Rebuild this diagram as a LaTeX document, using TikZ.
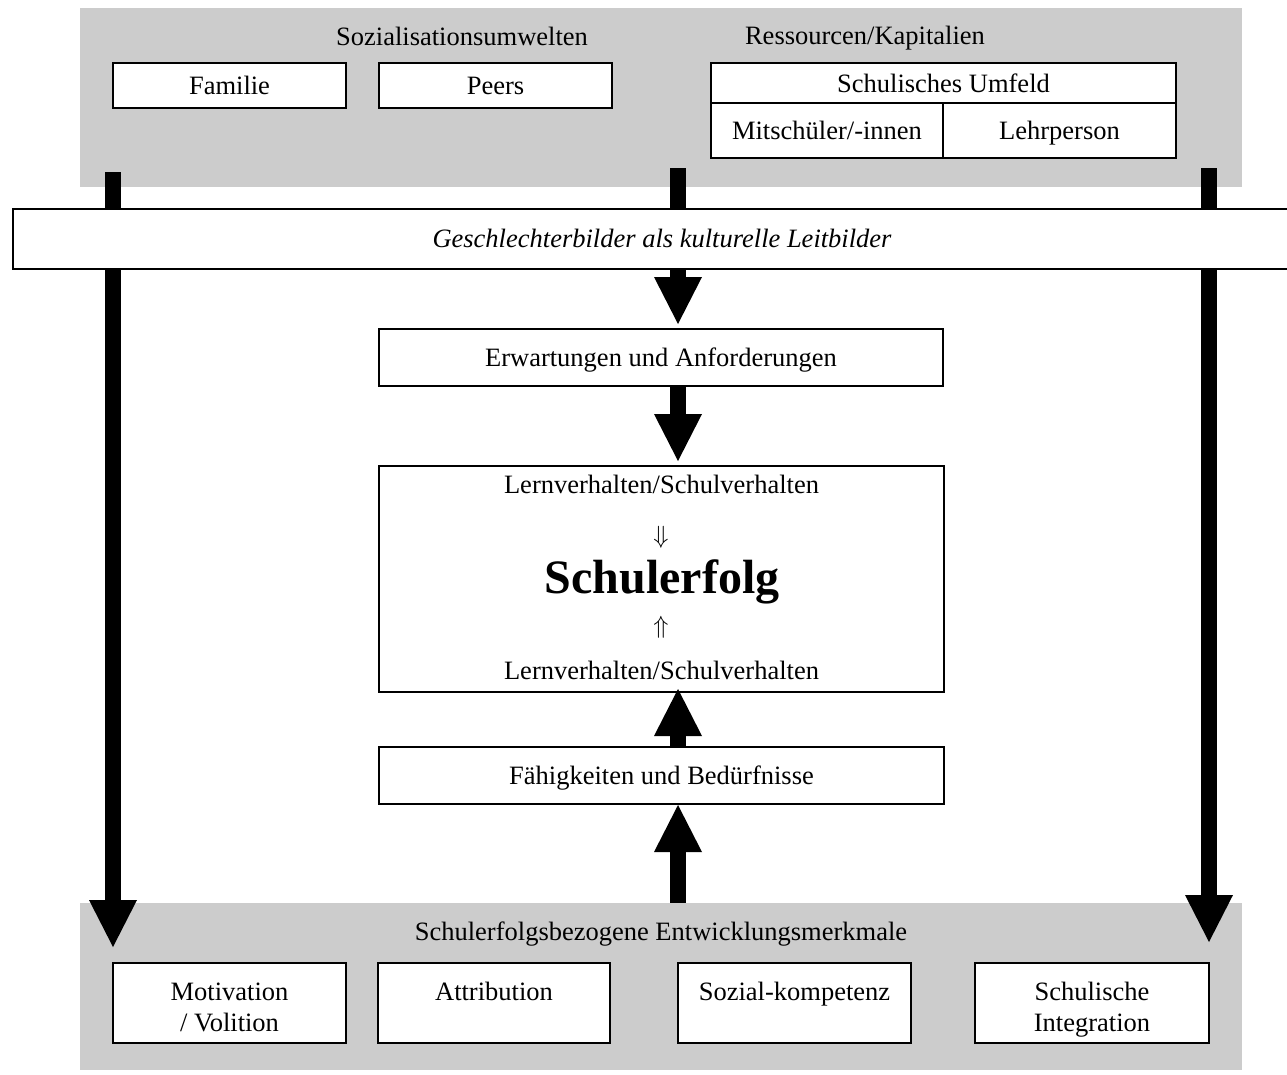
\documentclass[tikz,border=0pt]{standalone}
\usepackage{fontspec}
\setmainfont{Liberation Serif}
\usetikzlibrary{arrows.meta}
\begin{document}
\begin{tikzpicture}[x=1pt,y=-1pt,
  base/.style={font=\fontsize{26.5}{31}\selectfont},
  box/.style={base,draw=black,line width=2pt,fill=white,inner sep=0pt,align=center,text height=18pt,text depth=0pt},
  panel/.style={fill=black!20,draw=none,inner sep=0pt},
  bigarrow/.style={line width=16pt,-{Triangle[width=48pt,length=47pt,line width=0pt]}},
]
\useasboundingbox (0,0) rectangle (1287,1074);
% panels
\node[panel,minimum width=1162pt,minimum height=179pt] (topg) at (661,97.5) {};
\node[panel,minimum width=1162pt,minimum height=167pt] (botg) at (661,986.5) {};
% top panel content
\node[base,anchor=base] (sozt) at (462,45) {Sozialisationsumwelten};
\node[base,anchor=base] (rest) at (865,44) {Ressourcen/Kapitalien};
\node[box,minimum width=233pt,minimum height=45pt] (familie) at (229.5,85.5) {Familie};
\node[box,minimum width=233pt,minimum height=45pt] (peers) at (495.5,85.5) {Peers};
\node[box,minimum width=465pt,minimum height=40pt] (umfeld) at (943.5,83) {Schulisches Umfeld};
\node[box,minimum width=232pt,minimum height=55pt] (mitsch) at (827,130.5) {Mitsch\"uler/-innen};
\node[box,minimum width=233pt,minimum height=55pt] (lehr) at (1059.5,130.5) {Lehrperson};
% middle column
\node[box,minimum width=564pt,minimum height=57pt] (erw) at (661,357.5) {Erwartungen und Anforderungen};
\node[box,minimum width=565pt,minimum height=226pt] (main) at (661.5,579) {};
\node[base,anchor=base] (lv1) at (661.5,493) {Lernverhalten/Schulverhalten};
\node[font=\fontsize{28}{32}\selectfont] (da) at (661,537) {$\Downarrow$};
\node[font=\fontsize{48}{56}\selectfont\bfseries,anchor=base] (se) at (662,593) {Schulerfolg};
\node[font=\fontsize{28}{32}\selectfont] (ua) at (661,627) {$\Uparrow$};
\node[base,anchor=base] (lv2) at (661.5,679) {Lernverhalten/Schulverhalten};
\node[box,minimum width=565pt,minimum height=57pt] (fae) at (661.5,775.5) {F\"ahigkeiten und Bed\"urfnisse};
% bottom panel content
\node[base,anchor=base] (sbe) at (661,940) {Schulerfolgsbezogene Entwicklungsmerkmale};
\node[box,minimum width=233pt,minimum height=80pt] (mot) at (229.5,1003) {};
\node[box,minimum width=232pt,minimum height=80pt] (att) at (494,1003) {};
\node[box,minimum width=233pt,minimum height=80pt] (soz) at (794.5,1003) {};
\node[box,minimum width=234pt,minimum height=80pt] (int) at (1092,1003) {};
\node[base,align=center,yshift=-7pt] (motT) at (mot.center) {Motivation\strut\\/ Volition\strut};
\node[base,align=center,yshift=-7pt] (attT) at (att.center) {Attribution\strut\\\strut};
\node[base,align=center,yshift=-7pt] (sozT) at (soz.center) {Sozial-kompetenz\strut\\\strut};
\node[base,align=center,yshift=-7pt] (intT) at (int.center) {Schulische\strut\\Integration\strut};
% arrows
\coordinate (mx) at (678,0);
\coordinate (ls) at (113,172);
\coordinate (le) at (113,947);
\coordinate (ms) at (678,168);
\coordinate (rs) at (1209,168);
\coordinate (re) at (1209,942);
\draw[bigarrow] (ls) -- (le);
\draw[bigarrow] (rs) -- (re);
\draw[bigarrow,shorten >=4pt] (ms) -- (mx |- erw.north);
\draw[bigarrow,shorten >=4pt] (mx |- erw.south) -- (mx |- main.north);
\draw[bigarrow,shorten >=-4pt] (mx |- fae.north) -- (mx |- main.south);
\draw[bigarrow] (mx |- botg.north) -- (mx |- fae.south);
% band on top of stems
\node[box,minimum width=1298pt,minimum height=60pt] (band) at (662,239) {};
\node[font=\fontsize{26.5}{31}\selectfont\itshape,anchor=base] (bandT) at (662,247) {Geschlechterbilder als kulturelle Leitbilder};
\end{tikzpicture}
\end{document}
